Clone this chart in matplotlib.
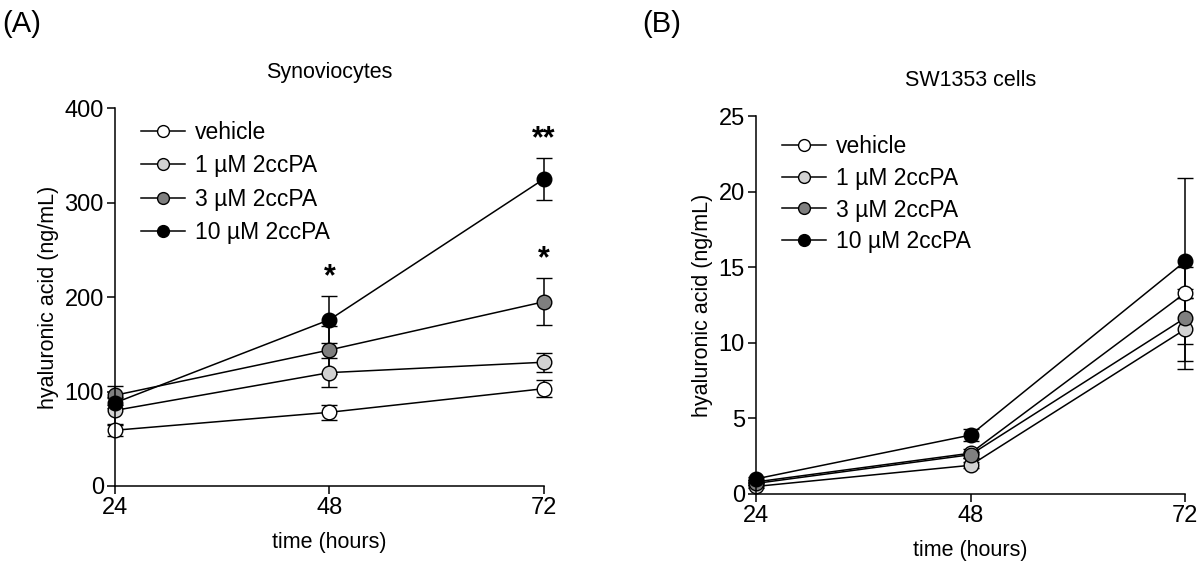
import matplotlib
matplotlib.use('Agg')
import matplotlib.pyplot as plt
from matplotlib.lines import Line2D

plt.rcParams['font.family'] = ['Liberation Sans', 'DejaVu Sans']

hours = [24, 48, 72]
groups = ['vehicle', '1 µM 2ccPA', '3 µM 2ccPA', '10 µM 2ccPA']
face_colors = ['white', '#d2d2d2', '#7f7f7f', 'black']

# panel A: synoviocytes (ng/mL)
syn_mean = [
    [59, 78, 103],
    [80, 120, 131],
    [96, 144, 195],
    [88, 176, 325],
]
syn_err = [
    [6, 8, 9],
    [14, 15, 10],
    [10, 25, 25],
    [5, 25, 22],
]
syn_stars = [(48, 176, 25, '*'), (72, 325, 22, '**'), (72, 195, 25, '*')]

# panel B: SW1353 cells (ng/mL)
sw_mean = [
    [0.8, 2.7, 13.3],
    [0.5, 1.9, 10.9],
    [0.7, 2.6, 11.65],
    [1.0, 3.9, 15.4],
]
sw_err = [
    [0.1, 0.3, 0.3],
    [0.1, 0.2, 2.1],
    [0.1, 0.2, 3.35],
    [0.1, 0.4, 5.5],
]

fig = plt.figure(figsize=(12, 5.63), dpi=100)
ax_a = fig.add_axes([0.0958, 0.1368, 0.3575, 0.6712])
ax_b = fig.add_axes([0.63, 0.1226, 0.3575, 0.6705])


def draw_panel(ax, means, errs, ylim, yticks, title, leg_anchor, spacing):
    handles = []
    for name, fc, m, e in zip(groups, face_colors, means, errs):
        ax.errorbar(hours, m, yerr=e, color='black', lw=1.1, capsize=6,
                    capthick=1.1, elinewidth=1.1, marker='o', ms=10.5,
                    mfc=fc, mec='black', mew=1.0, clip_on=False)
        handles.append(Line2D([], [], color='black', lw=1.1, marker='o',
                              ms=8.5, mfc=fc, mec='black', mew=1.0,
                              label=name))
    ax.set_xlim(24, 72)
    ax.set_ylim(*ylim)
    ax.set_xticks(hours)
    ax.set_yticks(yticks)
    for s in ['top', 'right']:
        ax.spines[s].set_visible(False)
    for s in ['left', 'bottom']:
        ax.spines[s].set_linewidth(1.1)
    ax.tick_params(direction='out', length=6, width=1.1, labelsize=17, pad=2)
    ax.set_xlabel('time (hours)', fontsize=15.5, labelpad=9)
    ax.set_ylabel('hyaluronic acid (ng/mL)', fontsize=15.5, labelpad=4)
    ax.set_title(title, fontsize=15.5, pad=22)
    ax.legend(handles=handles, loc='upper left', bbox_to_anchor=leg_anchor,
              frameon=False, fontsize=16.5, handlelength=1.9,
              handletextpad=0.45, labelspacing=spacing, borderaxespad=0)


draw_panel(ax_a, syn_mean, syn_err, (0, 400), range(0, 401, 100),
           'Synoviocytes', (0.04, 0.99), 0.45)
draw_panel(ax_b, sw_mean, sw_err, (0, 25), range(0, 26, 5),
           'SW1353 cells', (0.04, 0.975), 0.38)

for x, y, e, s in syn_stars:
    ax_a.text(x, y + e + 4, s, ha='center', va='bottom', fontsize=22,
              fontweight='bold')

fig.text(0.002, 0.958, '(A)', fontsize=21, va='center')
fig.text(0.535, 0.958, '(B)', fontsize=21, va='center')

fig.savefig('out.png', dpi=100)
